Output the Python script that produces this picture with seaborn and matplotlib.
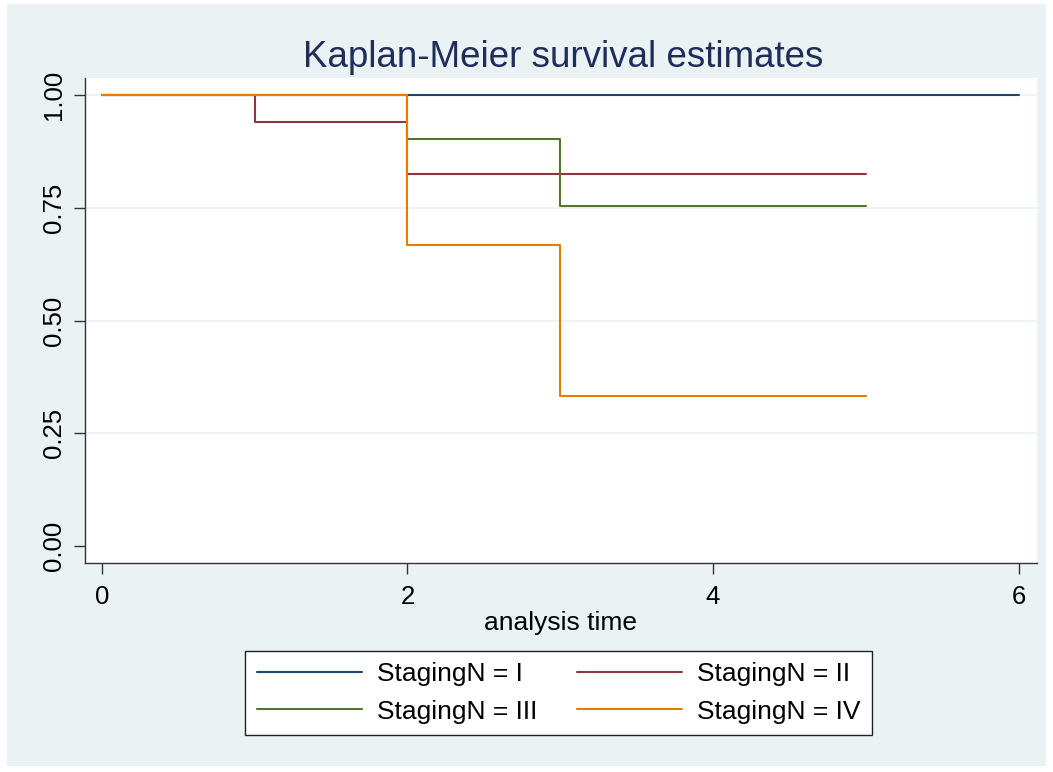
import pandas as pd
import matplotlib.pyplot as plt
import matplotlib.patches as mpatches
import seaborn as sns

# KM step points per stage (time, survival)
groups = ["I", "II", "III", "IV"]
time_I = [0, 6]
surv_I = [1.0, 1.0]
time_II = [0, 1, 2, 5]
surv_II = [1.0, 0.941, 0.824, 0.824]
time_III = [0, 2, 3, 5]
surv_III = [1.0, 0.903, 0.753, 0.753]
time_IV = [0, 2, 3, 5]
surv_IV = [1.0, 0.667, 0.333, 0.333]

xticks = [0, 2, 4, 6]
yticks = [0.0, 0.25, 0.5, 0.75, 1.0]
ytick_labels = ["0.00", "0.25", "0.50", "0.75", "1.00"]

colors = ["#1a476f", "#90353b", "#55752f", "#e37e00"]
bg = "#eaf2f3"

df = pd.concat([
    pd.DataFrame({"time": time_I, "surv": surv_I, "stage": "I"}),
    pd.DataFrame({"time": time_II, "surv": surv_II, "stage": "II"}),
    pd.DataFrame({"time": time_III, "surv": surv_III, "stage": "III"}),
    pd.DataFrame({"time": time_IV, "surv": surv_IV, "stage": "IV"}),
], ignore_index=True)

sns.set_style("white")
plt.rcParams['font.family'] = ['Liberation Sans', 'DejaVu Sans']
plt.rcParams['text.color'] = 'black'
plt.rcParams['axes.labelcolor'] = 'black'
plt.rcParams['xtick.labelcolor'] = 'black'
plt.rcParams['ytick.labelcolor'] = 'black'

fig = plt.figure(figsize=(10.53, 7.72), dpi=100)
fig.patch.set_facecolor("white")
# stata-like outer region
fig.patches.append(mpatches.Rectangle((7 / 1053, 1 - 766 / 772), (1046 - 7) / 1053, (766 - 4) / 772,
                                      transform=fig.transFigure, facecolor=bg, edgecolor="none", zorder=-10))

ax = fig.add_axes([85 / 1053, 1 - 563 / 772, (1037 - 85) / 1053, (563 - 78) / 772])
ax.set_facecolor("white")

for yv in yticks[1:]:
    ax.axhline(yv, color=bg, lw=1.2, zorder=1)

for g, c in zip(groups, colors):
    sub = df[df["stage"] == g]
    sns.lineplot(data=sub, x="time", y="surv", color=c, lw=1.5, drawstyle="steps-post",
                 estimator=None, sort=False, legend=False, ax=ax, zorder=3)

ax.set_xlim(-0.11, 6.12)
ax.set_ylim(-0.038, 1.038)
ax.set_xticks(xticks)
ax.set_yticks(yticks)
ax.set_yticklabels(ytick_labels, rotation=90, va="center")
ax.tick_params(axis="both", direction="out", length=8, width=1, color="#333333",
               labelsize=18.5, bottom=True, left=True)
ax.tick_params(axis="x", pad=8)
ax.tick_params(axis="y", pad=6)
for s in ["top", "right"]:
    ax.spines[s].set_visible(False)
for s in ["left", "bottom"]:
    ax.spines[s].set_color("#333333")
    ax.spines[s].set_linewidth(1)

ax.set_xlabel("analysis time", fontsize=19, labelpad=1)
ax.set_ylabel("")
fig.text(0.535, 1 - 67 / 772, "Kaplan-Meier survival estimates", ha="center", va="baseline",
         fontsize=26.5, color="#1e2d5a")

# row-major legend order: I, II / III, IV
lines = ax.get_lines()[-4:]
order = [0, 2, 1, 3]
handles = [lines[i] for i in order]
labels = ["StagingN = " + groups[i] for i in order]
leg = ax.legend(handles, labels, loc="center", bbox_to_anchor=(558.5 / 1053, 1 - 693 / 772),
                bbox_transform=fig.transFigure, ncol=2, fontsize=19, frameon=True, framealpha=1,
                fancybox=False, edgecolor="#222222", handlelength=4.0, handletextpad=0.55,
                columnspacing=1.5, labelspacing=0.5, borderpad=0.45)
leg.get_frame().set_linewidth(1)
leg.get_frame().set_facecolor("white")

fig.savefig("out.png", dpi=100, facecolor=fig.get_facecolor())
